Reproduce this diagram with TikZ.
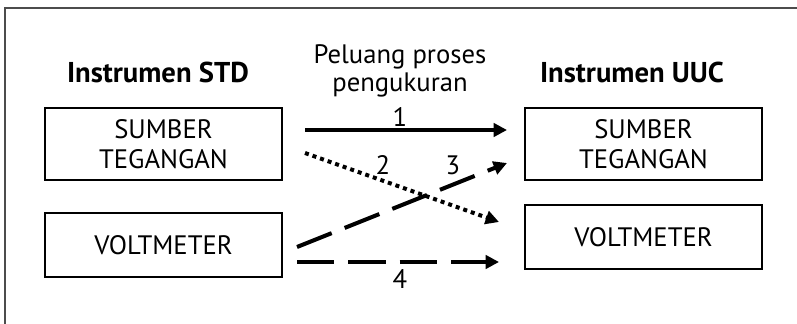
\documentclass[tikz,border=0pt]{standalone}
\usepackage{fontspec}
\setmainfont{PT Sans}
\usetikzlibrary{arrows.meta}
\begin{document}
\begin{tikzpicture}[x=0.75pt,y=-0.75pt,
  box/.style={draw, line width=0.9pt, minimum width=177.75pt, align=center, font=\fontsize{20}{22.5}\selectfont},
  title/.style={font=\bfseries\fontsize{21.5}{24}\selectfont},
  lbl/.style={font=\fontsize{20}{21}\selectfont},
  arr/.style={line width=3pt, -{Triangle[length=10pt,width=10pt]}},
  dashline/.style={dash pattern=on 28pt off 10.5pt},
  dotline/.style={dash pattern=on 3pt off 3pt}]
\useasboundingbox (0,0) rectangle (797,324);
\begin{scope}
\clip (0,0) rectangle (797,324);
\draw[line width=0.8pt, black!70] (5,8) rectangle (820,340);
\end{scope}
\node[title] (tstd) at (158,72) {Instrumen STD};
\node[title] (tuuc) at (632,72) {Instrumen UUC};
\node[lbl, align=center] (peluang) at (400,71) {Peluang proses\\pengukuran};
\node[box, minimum height=54pt, inner sep=0pt] (s1) at (163.5,144) {SUMBER\\TEGANGAN};
\node[box, minimum height=48pt] (v1) at (163.5,245) {VOLTMETER};
\node[box, minimum height=54pt, inner sep=0pt] (s2) at (643.5,144) {SUMBER\\TEGANGAN};
\node[box, minimum height=48pt] (v2) at (643.5,237) {VOLTMETER};
\coordinate (a1s) at (305,130);
\coordinate (a1e) at (507,130);
\coordinate (a2s) at (305,153);
\coordinate (a2e) at (499,222);
\coordinate (a3s) at (297,247);
\coordinate (a3e) at (507,163);
\coordinate (a4s) at (297,262);
\coordinate (a4e) at (499,262);
\draw[arr] (a1s) -- (a1e);
\draw[arr, dotline] (a2s) -- (a2e);
\draw[arr, dashline] (a3s) -- (a3e);
\draw[arr, dashline] (a4s) -- (a4e);
\node[lbl] (n1) at (400,117) {1};
\node[lbl] (n2) at (383,165) {2};
\node[lbl] (n3) at (453,165) {3};
\node[lbl] (n4) at (400,279) {4};
\end{tikzpicture}
\end{document}
